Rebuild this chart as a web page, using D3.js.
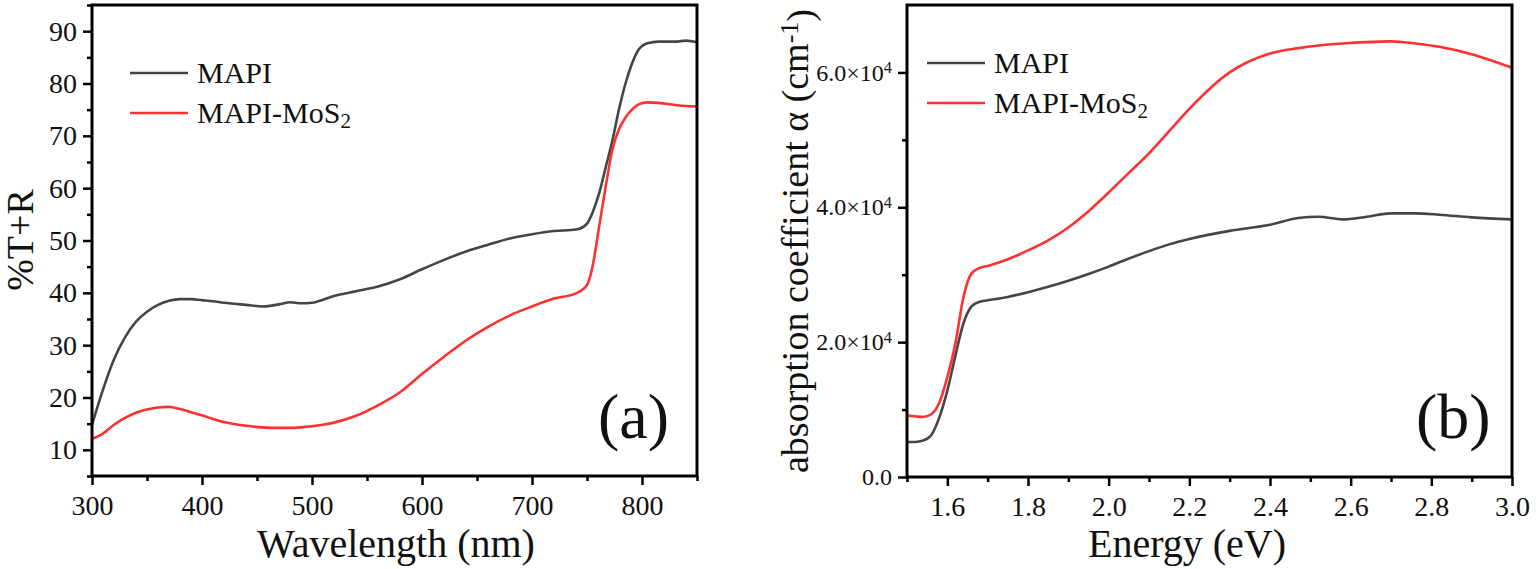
<!DOCTYPE html>
<html>
<head>
<meta charset="utf-8">
<script src="https://cdn.jsdelivr.net/npm/d3@7"></script>
<style>
  html, body { margin: 0; padding: 0; background: #fff; }
  svg, svg text { font-family: "Liberation Serif", "Times New Roman", Times, serif !important; }
</style>
</head>
<body>
<div id="chart"></div>
<script>
// panel (a): %T+R vs wavelength
const wavelength = [300,310,320,330,340,350,360,370,380,390,400,410,420,430,440,455,470,480,490,500,510,520,540,560,580,600,620,640,660,680,700,720,740,750,755,761,767,773,779,785,790,797,805,815,830,840,850];
const mapiTR = [14.8,21.5,27.3,31.5,34.5,36.4,37.7,38.5,38.8,38.8,38.6,38.4,38.1,37.9,37.7,37.4,37.8,38.2,38.0,38.1,38.7,39.4,40.3,41.2,42.6,44.5,46.3,47.9,49.2,50.4,51.2,51.8,52.1,53.2,55.3,59.0,64.0,69.0,75.0,80.0,83.3,86.5,87.7,88.0,88.0,88.2,87.9];
const mos2TR = [12.1,13.1,14.8,16.1,17.1,17.7,18.1,18.2,17.8,17.2,16.6,15.9,15.3,14.9,14.6,14.3,14.2,14.2,14.3,14.5,14.8,15.2,16.5,18.5,21.0,24.5,27.8,30.9,33.5,35.7,37.4,38.9,39.9,41.5,45.0,52.6,60.3,67.3,71.2,73.5,74.8,76.0,76.4,76.3,75.9,75.7,75.6];

// panel (b): absorption coefficient vs energy
const energy = [1.50,1.52,1.54,1.56,1.58,1.60,1.62,1.64,1.66,1.68,1.70,1.75,1.80,1.85,1.90,1.95,2.00,2.05,2.10,2.15,2.20,2.30,2.40,2.47,2.52,2.58,2.64,2.70,2.76,2.82,2.90,3.00];
const mapiAlpha = [5200,5200,5400,6200,8800,12800,18000,22800,25300,26000,26200,26700,27400,28200,29100,30100,31200,32400,33500,34500,35300,36500,37400,38400,38600,38200,38600,39100,39100,38900,38500,38200];
const mos2Alpha = [9100,9000,8900,9300,11000,14800,19800,26700,30200,31000,31300,32300,33600,35100,37000,39400,42200,45100,48000,51300,54600,60000,62800,63600,64000,64300,64500,64600,64300,63800,62700,60700];

const seriesNames = ["MAPI", "MAPI-MoS2"];
const colors = ["#454545", "#ff3030"];

const wlTicks = [300,400,500,600,700,800];
const wlMinor = [350,450,550,650,750,850];
const trTicks = [10,20,30,40,50,60,70,80,90];
const trMinor = [5,15,25,35,45,55,65,75,85,95];
const eTicks = [1.6,1.8,2.0,2.2,2.4,2.6,2.8,3.0];
const eMinor = [1.5,1.7,1.9,2.1,2.3,2.5,2.7,2.9];
const aTicks = [0,20000,40000,60000];
const aMinor = [10000,30000,50000];

const W = 1536, H = 569;
const FONT = '"Liberation Serif", "Times New Roman", Times, serif';
const svg = d3.select("#chart").append("svg")
    .attr("width", W).attr("height", H);

const tickFont = 28;

function panel(opts) {
    const x = d3.scaleLinear().domain(opts.xDomain).range(opts.xRange);
    const y = d3.scaleLinear().domain(opts.yDomain).range(opts.yRange);
    const g = svg.append("g");

    // minor ticks
    g.append("g").attr("transform", `translate(0,${opts.yRange[0]})`)
        .call(d3.axisBottom(x).tickValues(opts.xMinor).tickSize(5).tickFormat(""));
    g.append("g").attr("transform", `translate(${opts.xRange[0]},0)`)
        .call(d3.axisLeft(y).tickValues(opts.yMinor).tickSize(5).tickFormat(""));

    // major ticks
    const xa = g.append("g").attr("transform", `translate(0,${opts.yRange[0]})`)
        .call(d3.axisBottom(x).tickValues(opts.xTicks).tickSize(9).tickPadding(10).tickFormat(opts.xFormat));
    const ya = g.append("g").attr("transform", `translate(${opts.xRange[0]},0)`)
        .call(d3.axisLeft(y).tickValues(opts.yTicks).tickSize(9).tickPadding(6).tickFormat(opts.yFormat));

    g.selectAll("g").attr("font-family", FONT);
    g.selectAll(".domain").remove();
    g.selectAll(".tick line").attr("stroke", "#000").attr("stroke-width", 2.5);
    xa.selectAll("text").attr("font-size", tickFont).attr("fill", "#111");
    ya.selectAll("text").attr("font-size", opts.yFont).attr("fill", "#111");
    if (opts.ySci) {
        ya.selectAll(".tick text").each(function(d) {
            const t = d3.select(this).text("");
            if (d === 0) { t.text("0.0"); return; }
            const e = Math.floor(Math.log10(d));
            t.append("tspan").text((d / Math.pow(10, e)).toFixed(1) + "\u00d710");
            t.append("tspan").attr("dy", "-0.45em").attr("font-size", opts.yFont * 0.68).text(e);
        });
    }

    // lines
    const line = d3.line().x(d => x(d[0])).y(d => y(d[1])).curve(d3.curveMonotoneX);
    opts.series.forEach((s, i) => {
        g.append("path")
            .datum(opts.xs.map((v, k) => [v, s[k]]))
            .attr("fill", "none")
            .attr("stroke", colors[i])
            .attr("stroke-width", 2.6)
            .attr("d", line);
    });

    // frame
    g.append("rect")
        .attr("x", opts.xRange[0]).attr("y", opts.yRange[1])
        .attr("width", opts.xRange[1] - opts.xRange[0])
        .attr("height", opts.yRange[0] - opts.yRange[1])
        .attr("fill", "none").attr("stroke", "#000").attr("stroke-width", 3);

    // legend
    seriesNames.forEach((n, i) => {
        const ly = opts.legend[1] + i * 40;
        g.append("line")
            .attr("x1", opts.legend[0]).attr("x2", opts.legend[0] + 58)
            .attr("y1", ly).attr("y2", ly)
            .attr("stroke", colors[i]).attr("stroke-width", 2.6);
        const t = g.append("text")
            .attr("x", opts.legend[0] + 67).attr("y", ly + 10)
            .attr("font-size", 30).attr("fill", "#111");
        if (n.endsWith("2")) {
            t.append("tspan").text(n.slice(0, -1));
            t.append("tspan").attr("dy", "0.25em").attr("font-size", 21).text("2");
        } else {
            t.text(n);
        }
    });

    // panel letter
    g.append("text")
        .attr("x", opts.letter[0]).attr("y", opts.letter[1])
        .attr("font-size", 64).attr("fill", "#111")
        .text(opts.letterText);

    // axis titles
    g.append("text")
        .attr("x", opts.xTitle[0]).attr("y", opts.xTitle[1])
        .attr("text-anchor", "middle").attr("font-size", 40).attr("fill", "#111")
        .text(opts.xLabel);

    const yt = g.append("text")
        .attr("transform", `translate(${opts.yTitle[0]},${opts.yTitle[1]}) rotate(-90)`)
        .attr("text-anchor", "middle").attr("font-size", opts.yTitleFont).attr("fill", "#111");
    opts.yLabel(yt);
}

panel({
    xDomain: [300, 850], xRange: [92, 697],
    yDomain: [5, 95], yRange: [476, 5],
    xTicks: wlTicks, xMinor: wlMinor, yTicks: trTicks, yMinor: trMinor,
    xFormat: d3.format("d"), yFormat: d3.format("d"), yFont: tickFont,
    xs: wavelength, series: [mapiTR, mos2TR],
    legend: [130, 73],
    letter: [598, 438], letterText: "(a)",
    xTitle: [396, 557], xLabel: "Wavelength (nm)",
    yTitle: [33, 240], yTitleFont: 38,
    yLabel: t => t.text("%T+R")
});

panel({
    xDomain: [1.5, 3.0], xRange: [907, 1512],
    yDomain: [0, 70000], yRange: [477, 5],
    xTicks: eTicks, xMinor: eMinor, yTicks: aTicks, yMinor: aMinor,
    xFormat: d3.format(".1f"), yFormat: d => d, yFont: 24, ySci: true,
    xs: energy, series: [mapiAlpha, mos2Alpha],
    legend: [927, 63],
    letter: [1416, 438], letterText: "(b)",
    xTitle: [1187, 557], xLabel: "Energy (eV)",
    yTitle: [808, 241], yTitleFont: 38,
    yLabel: t => {
        t.append("tspan").text("absorption coefficient \u03b1 (cm");
        t.append("tspan").attr("dy", "-0.4em").attr("font-size", 26).text("-1");
        t.append("tspan").attr("dy", "0.4em").text(")");
    }
});
</script>
</body>
</html>
